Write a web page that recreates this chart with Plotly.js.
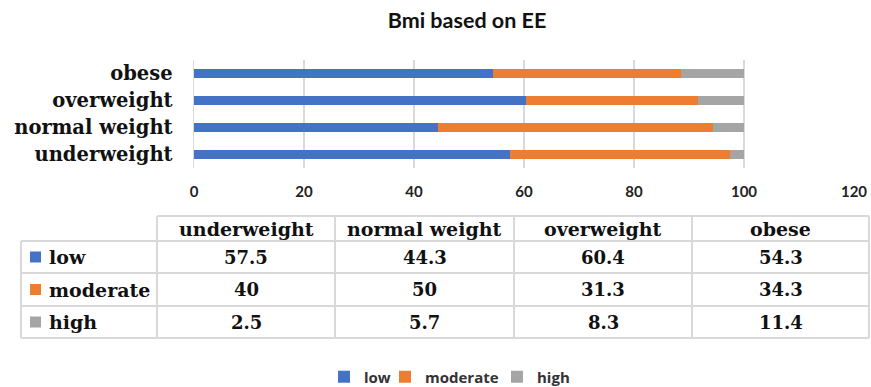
<!DOCTYPE html>
<html>
<head>
<meta charset="utf-8">
<script src="https://cdn.plot.ly/plotly-3.0.1.min.js"></script>
<style>html,body{margin:0;padding:0;background:#fff;}</style>
</head>
<body>
<div id="chart" style="width:871px;height:387px;"></div>
<script>
var categories = ['underweight', 'normal weight', 'overweight', 'obese'];
var seriesNames = ['low', 'moderate', 'high'];
var lowVals = [57.5, 44.3, 60.4, 54.3];
var moderateVals = [40, 50, 31.3, 34.3];
var highVals = [2.5, 5.7, 8.3, 11.4];
var xTicks = [0, 20, 40, 60, 80, 100, 120];
var colors = ['#4472C4', '#ED7D31', '#A5A5A5'];
var seriesVals = [lowVals, moderateVals, highVals];
var legendWidths = [16, 67, 34];

var W = 871, H = 387;
var serif = 'DejaVu Serif, Liberation Serif, serif';
var sans = 'Lato, Open Sans, sans-serif';
function px(x) { return x / W; }
function py(y) { return 1 - y / H; }

var traces = seriesNames.map(function (name, i) {
  return {
    type: 'bar', orientation: 'h', name: name,
    y: categories, x: seriesVals[i],
    marker: {color: colors[i]}, width: 0.37,
    legendwidth: legendWidths[i],
    hoverinfo: 'x+y+name'
  };
});

// ---- data table drawn with shapes + annotations ----
var colEdges = [21, 157, 335, 514, 692, 869];   // layout geometry (px)
var rowEdges = [216, 241, 273, 306, 338];       // header top, header bottom, row bottoms
var borderColor = '#d9d9d9';
var shapes = [];
var annotations = [];

function line(x0, y0, x1, y1) {
  shapes.push({type: 'line', xref: 'paper', yref: 'paper',
    x0: px(x0), y0: py(y0), x1: px(x1), y1: py(y1),
    line: {color: borderColor, width: 2}});
}
line(colEdges[1], rowEdges[0], colEdges[5], rowEdges[0]);
for (var r = 1; r < rowEdges.length; r++) line(colEdges[0], rowEdges[r], colEdges[5], rowEdges[r]);
line(colEdges[0], rowEdges[1], colEdges[0], rowEdges[4]);
for (var c = 1; c < colEdges.length; c++) line(colEdges[c], rowEdges[0], colEdges[c], rowEdges[4]);

categories.forEach(function (cat, j) {
  annotations.push({xref: 'paper', yref: 'paper', showarrow: false,
    x: px((colEdges[j + 1] + colEdges[j + 2]) / 2), y: py((rowEdges[0] + rowEdges[1]) / 2),
    xanchor: 'center', yanchor: 'middle', text: cat,
    font: {family: serif, size: 19, color: '#111', weight: 'bold'}});
});
seriesNames.forEach(function (name, i) {
  var yc = (rowEdges[i + 1] + rowEdges[i + 2]) / 2;
  shapes.push({type: 'rect', xref: 'paper', yref: 'paper',
    x0: px(30), x1: px(41), y0: py(yc - 5.5), y1: py(yc + 5.5),
    fillcolor: colors[i], line: {width: 0}});
  annotations.push({xref: 'paper', yref: 'paper', showarrow: false,
    x: px(47), y: py(yc), xanchor: 'left', yanchor: 'middle', text: name,
    font: {family: serif, size: 19, color: '#111', weight: 'bold'}});
  categories.forEach(function (cat, j) {
    annotations.push({xref: 'paper', yref: 'paper', showarrow: false,
      x: px((colEdges[j + 1] + colEdges[j + 2]) / 2), y: py(yc),
      xanchor: 'center', yanchor: 'middle', text: String(seriesVals[i][j]),
      font: {family: serif, size: 18, color: '#111', weight: 'bold'}});
  });
});

var layout = {
  width: W, height: H,
  margin: {l: 0, r: 0, t: 0, b: 0, autoexpand: false},
  paper_bgcolor: '#fff', plot_bgcolor: '#fff',
  barmode: 'stack',
  title: {
    text: 'Bmi based on EE', x: px(467), xanchor: 'center', y: py(20), yanchor: 'middle',
    font: {family: sans, size: 21.5, color: '#111', weight: 'bold'}
  },
  xaxis: {
    domain: [px(194), px(854)], range: [0, 120], tickvals: xTicks,
    showgrid: true, gridcolor: '#d9d9d9', gridwidth: 1.5, zeroline: false,
    showline: false, ticks: '', anchor: 'y',
    tickfont: {family: sans, size: 15, color: '#222', weight: 'bold'},
    ticklabelstandoff: 13, fixedrange: true
  },
  yaxis: {
    domain: [py(168), py(60)],
    showline: true, linecolor: '#d9d9d9', linewidth: 1.5,
    showgrid: false, ticks: '',
    tickfont: {family: serif, size: 19.5, color: '#111', weight: 'bold'},
    ticklabelstandoff: 16, fixedrange: true
  },
  shapes: shapes,
  annotations: annotations,
  showlegend: true,
  legend: {
    orientation: 'h',
    x: px(324), xanchor: 'left', y: py(377), yanchor: 'middle',
    font: {family: 'Open Sans, Lato, sans-serif', size: 15, color: '#333', weight: 'bold'},
    traceorder: 'normal', itemwidth: 30
  }
};

Plotly.newPlot('chart', traces, layout, {displayModeBar: false, staticPlot: true});
</script>
</body>
</html>
